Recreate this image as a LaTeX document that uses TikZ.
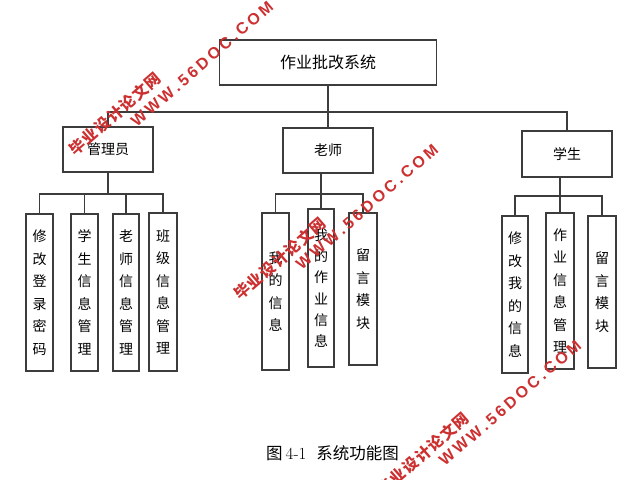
\documentclass[tikz,border=0pt]{standalone}
\usepackage{fontspec}
\newfontfamily\cjk{Noto Sans CJK SC}
\newfontfamily\wmlat{Liberation Sans}
\newcommand\wk{\kern3.1pt}
\newcommand\ck{\kern1.2pt}
\definecolor{wmred}{RGB}{204,48,48}
\definecolor{linegray}{RGB}{60,60,60}
\begin{document}
\begin{tikzpicture}[x=1pt,y=-1pt,
  box/.style={draw=linegray,line width=1.1pt,inner sep=0pt,align=center,
    font=\cjk\fontsize{14}{22.5}\selectfont},
  vbox/.style={box,minimum width=27pt,minimum height=157pt},
  conn/.style={draw=linegray,line width=1.1pt},
  wmcn/.style={text=wmred,font=\cjk\bfseries\fontsize{15.5}{15.5}\selectfont,inner sep=0pt,rotate=41},
  wmen/.style={text=wmred,font=\wmlat\bfseries\fontsize{16}{16}\selectfont,inner sep=0pt,rotate=41}]
\useasboundingbox (0,0) rectangle (642,479);
\fill[white] (0,0) rectangle (642,479);

% top
\node[box,minimum width=217pt,minimum height=45pt,font=\cjk\fontsize{16}{20}\selectfont] (top) at (328,62.5) {作业批改系统};

% second level
\node[box,minimum width=90pt,minimum height=45pt] (admin) at (108,149.5) {管理员};
\node[box,minimum width=90pt,minimum height=45pt] (teacher) at (328,150.5) {老师};
\node[box,minimum width=90pt,minimum height=46pt] (student) at (567,154) {学生};

% admin children
\node[vbox] (a1) at (39.5,292.5) {修\\改\\登\\录\\密\\码};
\node[vbox] (a2) at (84.5,292.5) {学\\生\\信\\息\\管\\理};
\node[vbox,minimum width=26pt] (a3) at (126,292.5) {老\\师\\信\\息\\管\\理};
\node[vbox,minimum width=28pt,minimum height=158pt] (a4) at (163,292) {班\\级\\信\\息\\管\\理};

% teacher children
\node[vbox] (t1) at (275.5,291.5) {我\\的\\信\\息};
\node[vbox,minimum width=26pt,minimum height=158pt,font=\cjk\fontsize{14}{21.3}\selectfont] (t2) at (321,288) {我\\的\\作\\业\\信\\息};
\node[vbox,minimum width=28pt,minimum height=152pt] (t3) at (363,289) {留\\言\\模\\块};

% student children
\node[vbox,minimum width=26pt] (s1) at (515,294.5) {修\\改\\我\\的\\信\\息};
\node[vbox,minimum width=28pt,minimum height=156pt] (s2) at (560,291) {作\\业\\信\\息\\管\\理};
\node[vbox,minimum width=28pt,minimum height=152pt] (s3) at (602,292) {留\\言\\模\\块};

% main connectors
\coordinate (busT) at (328,112);
\draw[conn] (top.south) -- (top.south |- busT);
\draw[conn] (admin.north) |- (busT) -| (student.north);
\draw[conn] (teacher.north) -- (teacher.north |- busT);

% admin subtree
\coordinate (busA) at (108,194);
\draw[conn] (admin.south) -- (busA);
\draw[conn] (a1.north) |- (busA) -| (a4.north);
\draw[conn] (a2.north) -- (a2.north |- busA);
\draw[conn] (a3.north) -- (a3.north |- busA);

% teacher subtree
\coordinate (busB) at (322,194);
\draw[conn] (t2.north |- teacher.south) -- (t2.north);
\draw[conn] (t1.north) |- (busB) -| (t3.north);

% student subtree
\coordinate (busC) at (560,196);
\draw[conn] (s2.north |- student.south) -- (s2.north);
\draw[conn] (s1.north) |- (busC) -| (s3.north);

% caption
\node[anchor=west,inner sep=0pt,font=\cjk\fontsize{16.5}{20}\selectfont] (cap) at (266,453)
  {图\kern3pt{\rmfamily\fontsize{17}{20}\selectfont 4-1}\kern10pt 系统功能图};

% watermarks
\node[wmcn] (w1a) at (115,114) {毕\ck 业\ck 设\ck 计\ck 论\ck 文\ck 网};
\node[wmen] (w1b) at (202,64) {W\wk W\wk W\wk .\wk 5\wk 6\wk D\wk O\wk C\wk .\wk C\wk O\wk M};
\node[wmcn] (w2a) at (280,258.5) {毕\ck 业\ck 设\ck 计\ck 论\ck 文\ck 网};
\node[wmen] (w2b) at (367,207) {W\wk W\wk W\wk .\wk 5\wk 6\wk D\wk O\wk C\wk .\wk C\wk O\wk M};
\node[wmcn] (w3a) at (423,454) {毕\ck 业\ck 设\ck 计\ck 论\ck 文\ck 网};
\node[wmen] (w3b) at (510,403) {W\wk W\wk W\wk .\wk 5\wk 6\wk D\wk O\wk C\wk .\wk C\wk O\wk M};
\end{tikzpicture}
\end{document}
